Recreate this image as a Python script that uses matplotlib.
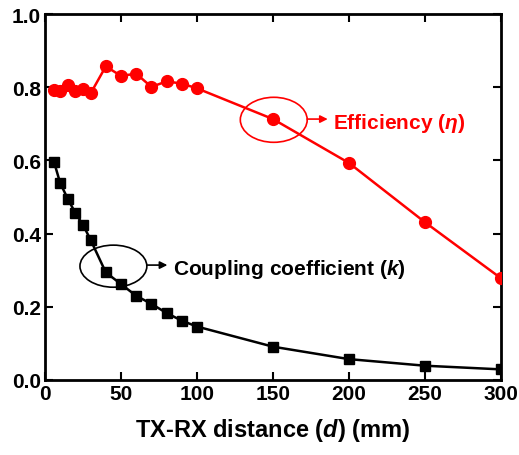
import matplotlib
matplotlib.use('Agg')
import matplotlib.pyplot as plt
from matplotlib.patches import Ellipse

plt.rcParams['font.family'] = ['Liberation Sans', 'DejaVu Sans']
plt.rcParams['font.weight'] = 'bold'
plt.rcParams['mathtext.fontset'] = 'custom'
plt.rcParams['mathtext.it'] = 'Liberation Sans:bold:italic'
plt.rcParams['mathtext.rm'] = 'Liberation Sans:bold'

# distances in mm
d = [6, 10, 15, 20, 25, 30, 40, 50, 60, 70, 80, 90, 100, 150, 200, 250, 300]
# efficiency (eta)
eta = [0.793, 0.789, 0.806, 0.790, 0.795, 0.783, 0.857, 0.831, 0.837, 0.801,
       0.816, 0.810, 0.797, 0.713, 0.593, 0.431, 0.278]
# coupling coefficient (k)
k = [0.595, 0.538, 0.495, 0.456, 0.424, 0.383, 0.294, 0.262, 0.230, 0.208,
     0.183, 0.162, 0.146, 0.091, 0.057, 0.039, 0.029]

fig = plt.figure(figsize=(5.19, 4.56), dpi=100)
ax = fig.add_axes([0.0867, 0.1645, 0.8786, 0.8025])

ax.plot(d, eta, color='red', lw=1.8, marker='o', ms=8.5, zorder=3)
ax.plot(d, k, color='black', lw=1.8, marker='s', ms=7.5, zorder=3)

ax.set_xlim(0, 300)
ax.set_ylim(0, 1.0)
ax.set_xticks([0, 50, 100, 150, 200, 250, 300])
ax.set_yticks([0.0, 0.2, 0.4, 0.6, 0.8, 1.0])
ax.set_yticklabels(['0.0', '0.2', '0.4', '0.6', '0.8', '1.0'])
ax.tick_params(direction='in', top=True, right=True, length=6, width=1.5,
               labelsize=15, pad=3)
for lab in ax.get_xticklabels() + ax.get_yticklabels():
    lab.set_fontweight('bold')
for sp in ax.spines.values():
    sp.set_linewidth(2)

ax.set_xlabel(r'TX-RX distance ($\it{d}$) (mm)', fontsize=17, fontweight='bold',
              labelpad=9)

# annotations
ax.add_patch(Ellipse((45, 0.311), 44, 0.115, fill=False, ec='black', lw=1.2))
ax.annotate('', xy=(80.5, 0.314), xytext=(67, 0.314),
            arrowprops=dict(arrowstyle='-|>', color='black', lw=1.2,
                            mutation_scale=11, shrinkA=0, shrinkB=0))
ax.text(84.5, 0.305, r'Coupling coefficient ($\it{k}$)', fontsize=15,
        fontweight='bold', va='center', ha='left')

ax.add_patch(Ellipse((150.5, 0.711), 44, 0.123, fill=False, ec='red', lw=1.2))
ax.annotate('', xy=(186, 0.713), xytext=(172.5, 0.713),
            arrowprops=dict(arrowstyle='-|>', color='red', lw=1.2,
                            mutation_scale=11, shrinkA=0, shrinkB=0))
ax.text(189.5, 0.705, r'Efficiency ($\it{\eta}$)', fontsize=15,
        fontweight='bold', va='center', ha='left', color='red')

fig.savefig('out.png', dpi=100)
